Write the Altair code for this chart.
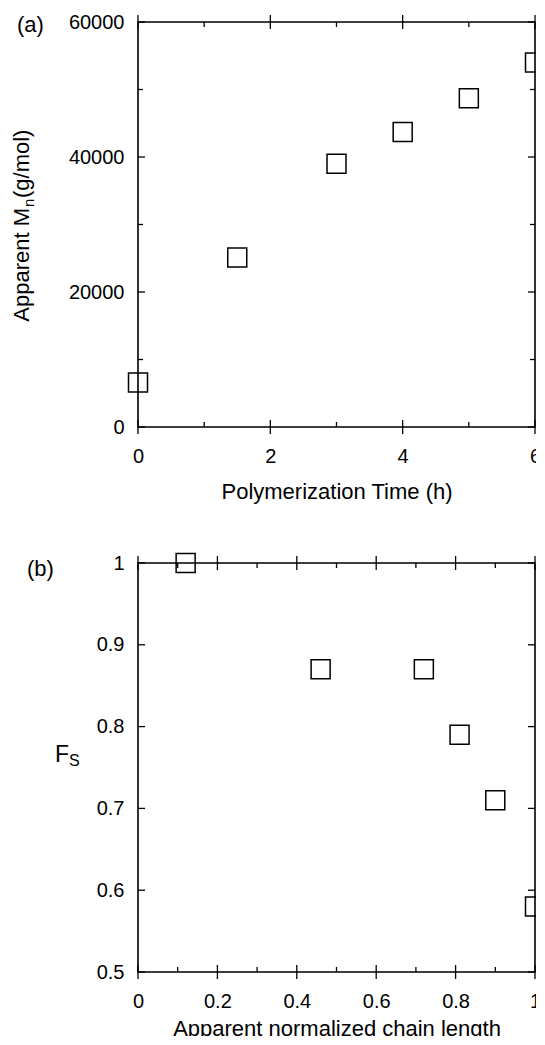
import altair as alt
import pandas as pd

# ---- data ----
time_h = [0, 1.5, 3, 4, 5, 6]
mn_app = [6600, 25100, 39000, 43700, 48700, 54000]

chain_len = [0.12, 0.46, 0.72, 0.81, 0.90, 1.00]
fs_vals = [1.00, 0.87, 0.87, 0.79, 0.71, 0.58]

xa_major = [0, 2, 4, 6]
xa_minor = [1, 3, 5]
ya_major = [0, 20000, 40000, 60000]
ya_minor = [10000, 30000, 50000]

xb_major = [0, 0.2, 0.4, 0.6, 0.8, 1.0]
xb_minor = [0.1, 0.3, 0.5, 0.7, 0.9]
yb_major = [0.5, 0.6, 0.7, 0.8, 0.9, 1.0]
yb_minor = []

W = 397
HA = 405
HB = 409
FONT = "Liberation Sans"


def make_axes(xvals, yvals, xfmt, yfmt, xtitle, tpad):
    xaxis = alt.Axis(
        values=xvals, format=xfmt, title=xtitle, ticks=False, tickSize=0,
        domain=False, grid=False, labelFontSize=20, labelPadding=19,
        labelColor="black", labelFont=FONT, titleFont=FONT,
        titleFontSize=22, titleFontWeight="normal", titleColor="black",
        titlePadding=tpad, labelFlush=False, labelOverlap=False)
    yaxis = alt.Axis(
        values=yvals, format=yfmt, title=None, ticks=False, tickSize=0,
        domain=False, grid=False, labelFontSize=20, labelPadding=14,
        labelColor="black", labelFont=FONT, labelFlush=False,
        labelOverlap=False)
    return xaxis, yaxis


def ticks_layers(xs, ys, xax, yax, xmaj, xmin, ymaj, ymin, H):
    layers = []
    tw = 1.3
    if xmaj:
        d = pd.DataFrame({"v": xmaj})
        for y1, y2 in [(-7, 7), (H - 7, H + 7)]:
            layers.append(
                alt.Chart(d).mark_rule(color="black", strokeWidth=tw).encode(
                    x=alt.X("v:Q", scale=xs, axis=xax),
                    y=alt.value(y1), y2=alt.value(y2)))
    if xmin:
        d = pd.DataFrame({"v": xmin})
        for y1, y2 in [(0, 5), (H - 5, H)]:
            layers.append(
                alt.Chart(d).mark_rule(color="black", strokeWidth=tw).encode(
                    x=alt.X("v:Q", scale=xs, axis=xax),
                    y=alt.value(y1), y2=alt.value(y2)))
    if ymaj:
        d = pd.DataFrame({"v": ymaj})
        for x1, x2 in [(0, 7), (W - 7, W)]:
            layers.append(
                alt.Chart(d).mark_rule(color="black", strokeWidth=tw).encode(
                    y=alt.Y("v:Q", scale=ys, axis=yax),
                    x=alt.value(x1), x2=alt.value(x2)))
    if ymin:
        d = pd.DataFrame({"v": ymin})
        for x1, x2 in [(0, 5), (W - 5, W)]:
            layers.append(
                alt.Chart(d).mark_rule(color="black", strokeWidth=tw).encode(
                    y=alt.Y("v:Q", scale=ys, axis=yax),
                    x=alt.value(x1), x2=alt.value(x2)))
    return layers


def text_layer(txt, x, y, size, angle=0, align="left", baseline="alphabetic"):
    kw = dict(align=align, baseline=baseline, fontSize=size, font=FONT, color="black")
    if angle:
        kw["angle"] = angle
    return alt.Chart(pd.DataFrame({"t": [txt]})).mark_text(**kw).encode(
        text="t:N", x=alt.value(x), y=alt.value(y))


def points_layer(df, xcol, ycol, xs, ys, xax, yax):
    return alt.Chart(df).mark_point(
        shape="square", size=361, filled=False, stroke="black",
        strokeWidth=1.5, opacity=1
    ).encode(
        x=alt.X(f"{xcol}:Q", scale=xs, axis=xax),
        y=alt.Y(f"{ycol}:Q", scale=ys, axis=yax),
    )


# ---- panel (a) ----
dfa = pd.DataFrame({"t": time_h, "mn": mn_app})
xsa = alt.Scale(domain=[0, 6], nice=False, zero=False)
ysa = alt.Scale(domain=[0, 60000], nice=False, zero=False)
xaxa, yaxa = make_axes(xa_major, ya_major, "d", "d", "Polymerization Time (h)", 15)
pa = points_layer(dfa, "t", "mn", xsa, ysa, xaxa, yaxa)
layers_a = [pa] + ticks_layers(xsa, ysa, xaxa, yaxa, xa_major, xa_minor,
                               ya_major, ya_minor, HA) + [
    text_layer("(a)", -121, 10, 22),
    text_layer("Apparent M", -109, 186, 22, angle=270, align="right"),
    text_layer("n", -104, 185, 15, angle=270, align="left"),
    text_layer("(g/mol)", -109, 176, 22, angle=270, align="left"),
]
chart_a = alt.layer(*layers_a).properties(width=W, height=HA)

# ---- panel (b) ----
dfb = pd.DataFrame({"c": chain_len, "fs": fs_vals})
xsb = alt.Scale(domain=[0, 1], nice=False, zero=False)
ysb = alt.Scale(domain=[0.5, 1], nice=False, zero=False)
xaxb, yaxb = make_axes(xb_major, yb_major, "~g", "~g",
                       "Apparent normalized chain length", 7)
pb = points_layer(dfb, "c", "fs", xsb, ysb, xaxb, yaxb)
layers_b = [pb] + ticks_layers(xsb, ysb, xaxb, yaxb, xb_major, xb_minor,
                               yb_major, yb_minor, HB) + [
    text_layer("(b)", -111, 13, 22),
    text_layer("F", -83, 199, 23),
    text_layer("S", -69, 203, 16),
]
chart_b = alt.layer(*layers_b).properties(width=W, height=HB)

chart = alt.vconcat(
    chart_a, chart_b, spacing=136, bounds="flush"
).properties(
    padding={"left": 2, "top": 3, "right": -13, "bottom": -4}
).configure(
    font=FONT, background="white"
).configure_view(
    stroke="black", strokeWidth=1.6
)

chart.save("out.html", embed_options={"renderer": "svg", "actions": False})
